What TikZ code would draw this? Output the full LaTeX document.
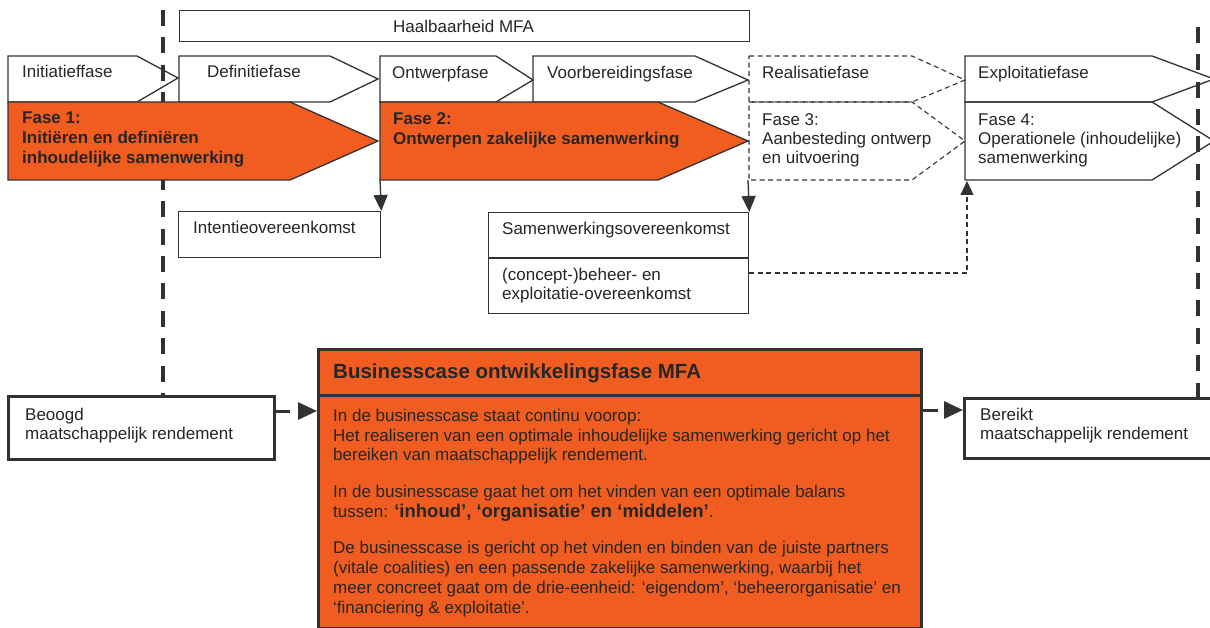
\documentclass[tikz,border=0pt]{standalone}
\usepackage{fontspec}
\setmainfont{Liberation Sans}
\usetikzlibrary{arrows.meta}
\definecolor{oranje}{RGB}{241,93,32}
\definecolor{ink}{RGB}{38,38,38}
\definecolor{edge}{RGB}{50,50,50}

\begin{document}
\begin{tikzpicture}[x=1pt,y=-1pt,
  outline/.style={draw=edge, line width=1.3pt, line join=miter},
  dashout/.style={draw=edge, line width=1.1pt, dash pattern=on 5pt off 3.5pt},
  heavy/.style={draw=edge, line width=3pt},
  lbl/.style={anchor=base west, inner sep=0pt, text=ink, font=\fontsize{17}{20}\selectfont},
  blbl/.style={anchor=base west, inner sep=0pt, text=ink, font=\fontsize{17}{20}\selectfont\bfseries},
  fasefill/.style={fill=oranje, draw=edge, line width=1.3pt},
  boxnode/.style={outline, fill=white, inner sep=0pt, anchor=north west},
  downtip/.style={-{Triangle[length=16pt,width=14pt]}},
  bigtip/.style={-{Triangle[length=19pt,width=17pt]}},
  phaseline/.style={draw=edge, line width=4pt, dash pattern=on 16pt off 11.35pt},
]
\useasboundingbox (0,0) rectangle (1210,628);
\clip (0,0) rectangle (1210,628);

% phase boundary (left), behind the phase arrows
\draw[phaseline] (163,10) -- (163,395);

% feasibility bar
\node[boxnode, minimum width=570pt, minimum height=31pt] (haal) at (179,10) {};
\node[lbl] (haaltxt) at (393,33) {Haalbaarheid MFA};

% upper row of phase arrows
\draw[outline] (8,56) -- (137,56) -- (178,78) -- (137,102) -- (8,102) -- cycle;
\draw[outline] (179,56) -- (330,56) -- (378,79) -- (330,102) -- (179,102) -- cycle;
\draw[outline] (380,56) -- (496,56) -- (533,80) -- (496,102) -- (380,102) -- cycle;
\draw[outline] (533,56) -- (695,56) -- (748,80) -- (695,102) -- (533,102) -- cycle;
\draw[dashout] (749,56) -- (912,56) -- (965,80) -- (912,102) -- (749,102) -- cycle;
\draw[outline] (965,56) -- (1152,56) -- (1214,79) -- (1152,102) -- (965,102) -- cycle;

\node[lbl] (t1) at (22,78) {Initiatieffase};
\node[lbl] (t2) at (207,78) {Definitiefase};
\node[lbl] (t3) at (392,79) {Ontwerpfase};
\node[lbl] (t4) at (547,79) {Voorbereidingsfase};
\node[lbl] (t5) at (762,79) {Realisatiefase};
\node[lbl] (t6) at (978,79) {Exploitatiefase};

% lower row: the four main phases
\draw[fasefill] (8,102) -- (290,102) -- (378,141) -- (290,180) -- (8,180) -- cycle;
\draw[fasefill] (380,102) -- (658,102) -- (748,141) -- (658,180) -- (380,180) -- cycle;
\draw[dashout] (749,102) -- (912,102) -- (965,141) -- (912,180) -- (749,180) -- cycle;
\draw[outline] (965,102) -- (1152,102) -- (1214,141) -- (1152,180) -- (965,180) -- cycle;

\node[blbl] (f1a) at (22,124) {Fase 1:};
\node[blbl] (f1b) at (22,144) {Initiëren en definiëren};
\node[blbl] (f1c) at (22,164) {inhoudelijke samenwerking};
\node[blbl] (f2a) at (393,125) {Fase 2:};
\node[blbl] (f2b) at (393,145) {Ontwerpen zakelijke samenwerking};
\node[lbl] (f3a) at (762,126) {Fase 3:};
\node[lbl] (f3b) at (762,145) {Aanbesteding ontwerp};
\node[lbl] (f3c) at (762,164) {en uitvoering};
\node[lbl] (f4a) at (978,126) {Fase 4:};
\node[lbl] (f4b) at (978,145) {Operationele (inhoudelijke)};
\node[lbl] (f4c) at (978,164) {samenwerking};

\coordinate (j1) at (380,180);
\coordinate (j2) at (748,180);
\coordinate (f4in) at (967,181);

% agreements
\node[boxnode, minimum width=202pt, minimum height=46pt] (intent) at (178,211) {};
\node[lbl] (intenttxt) at (193,234) {Intentieovereenkomst};
\node[boxnode, minimum width=260pt, minimum height=101pt] (samen) at (488,212) {};
\coordinate (ydiv) at (0,258);
\draw[outline] (samen.west |- ydiv) -- (samen.east |- ydiv);
\node[lbl] (samentxt) at (502,235) {Samenwerkingsovereenkomst};
\node[lbl] (beheer1) at (502,281) {(concept-)beheer- en};
\node[lbl] (beheer2) at (502,300) {exploitatie-overeenkomst};

\draw[outline, downtip] (j1) -- (intent.north east);
\draw[outline, downtip] (j2) -- (samen.north east);
\coordinate (ylink) at (0,273);
\draw[dashout, -{Triangle[length=14pt,width=13pt]}] (samen.east |- ylink) -| (f4in);

% return on investment boxes and business case
\node[heavy, fill=white, inner sep=0pt, anchor=north west, minimum width=266pt, minimum height=63pt] (beoogd) at (7,395) {};
\node[lbl] (beoogd1) at (25,420) {Beoogd};
\node[lbl] (beoogd2) at (25,439) {maatschappelijk rendement};

\node[heavy, fill=white, inner sep=0pt, anchor=north west, minimum width=300pt, minimum height=60pt] (bereikt) at (963,397) {};
\node[lbl] (bereikt1) at (980,420) {Bereikt};
\node[lbl] (bereikt2) at (980,439) {maatschappelijk rendement};

\node[heavy, fill=oranje, inner sep=0pt, anchor=north west, minimum width=603pt, minimum height=279pt] (bc) at (317,348) {};
\coordinate (yhead) at (0,395);
\draw[heavy] (bc.west |- yhead) -- (bc.east |- yhead);
\node[anchor=base west, inner sep=0pt, text=ink, font=\fontsize{20.5}{23}\selectfont\bfseries] (bchead) at (333,378) {Businesscase ontwikkelingsfase MFA};

\node[lbl] (p1a) at (333,421) {In de businesscase staat continu voorop:};
\node[lbl] (p1b) at (333,441) {Het realiseren van een optimale inhoudelijke samenwerking gericht op het};
\node[lbl] (p1c) at (333,460) {bereiken van maatschappelijk rendement.};
\node[lbl] (p2a) at (333,497) {In de businesscase gaat het om het vinden van een optimale balans};
\node[lbl] (p2b) at (333,517) {tussen: {\fontsize{18.5}{22}\selectfont\bfseries ‘inhoud’, ‘organisatie’ en ‘middelen’}.};
\node[lbl] (p3a) at (333,553) {De businesscase is gericht op het vinden en binden van de juiste partners};
\node[lbl] (p3b) at (333,573) {(vitale coalities) en een passende zakelijke samenwerking, waarbij het};
\node[lbl] (p3c) at (333,593) {meer concreet gaat om de drie-eenheid: ‘eigendom’, ‘beheerorganisatie’ en};
\node[lbl] (p3d) at (333,613) {‘financiering \& exploitatie’.};

\coordinate (ya) at (0,411);
\coordinate (yb) at (0,410);
\draw[heavy, dash pattern=on 14pt off 60pt, bigtip] (beoogd.east |- ya) -- (bc.west |- ya);
\draw[heavy, dash pattern=on 15pt off 60pt, bigtip] (bc.east |- yb) -- (bereikt.west |- yb);

% phase boundary (right), on top
\draw[phaseline] (1198,27) -- (1198,397);
\end{tikzpicture}
\end{document}
